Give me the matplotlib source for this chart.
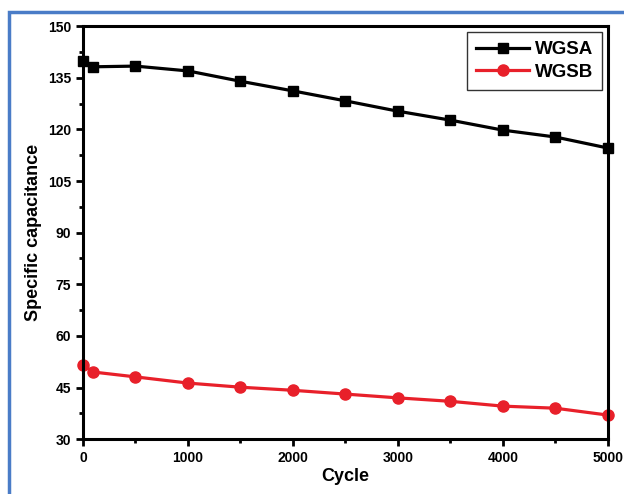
import matplotlib
matplotlib.use('Agg')
import matplotlib.pyplot as plt
from matplotlib.patches import Rectangle
from matplotlib.ticker import MultipleLocator

plt.rcParams['font.family'] = ['Liberation Sans', 'DejaVu Sans']
plt.rcParams['font.weight'] = 'bold'

# cycle number
cycles = [0, 100, 500, 1000, 1500, 2000, 2500, 3000, 3500, 4000, 4500, 5000]
# specific capacitance of the two samples
wgsa = [140.0, 138.2, 138.4, 137.0, 134.0, 131.2, 128.3, 125.3, 122.7, 119.8, 117.8, 114.6]
wgsb = [51.5, 49.5, 48.1, 46.3, 45.1, 44.2, 43.1, 42.0, 41.0, 39.6, 39.0, 37.0]

fig = plt.figure(figsize=(6.24, 4.94), dpi=100)
fig.patches.append(Rectangle((0.015, -0.01), 1.0, 0.985, transform=fig.transFigure,
                             fill=False, edgecolor='#4a7cc7', linewidth=2.5))

ax = fig.add_axes([0.133, 0.111, 0.841, 0.836])
ax.plot(cycles, wgsa, color='black', marker='s', markersize=7, linewidth=2.3, label='WGSA', clip_on=False)
ax.plot(cycles, wgsb, color='#e8202a', marker='o', markersize=8, linewidth=2.3, label='WGSB', clip_on=False)

ax.set_xlim(0, 5000)
ax.set_ylim(30, 150)
ax.xaxis.set_major_locator(MultipleLocator(1000))
ax.xaxis.set_minor_locator(MultipleLocator(500))
ax.yaxis.set_major_locator(MultipleLocator(15))
ax.yaxis.set_minor_locator(MultipleLocator(7.5))
ax.tick_params(which='major', direction='out', length=5, width=2, labelsize=10)
ax.tick_params(which='minor', direction='out', length=3, width=2)
for s in ax.spines.values():
    s.set_linewidth(2.2)

ax.set_xlabel('Cycle', fontsize=13, fontweight='bold', labelpad=2)
ax.set_ylabel('Specific capacitance', fontsize=13, fontweight='bold', labelpad=4)

leg = ax.legend(loc='upper right', fontsize=13.5, fancybox=False, edgecolor='black',
                handlelength=2.8, borderaxespad=0.3, labelspacing=0.3, handletextpad=0.3,
                borderpad=0.5)
leg.get_frame().set_linewidth(1)

fig.savefig('out.png', dpi=100)
